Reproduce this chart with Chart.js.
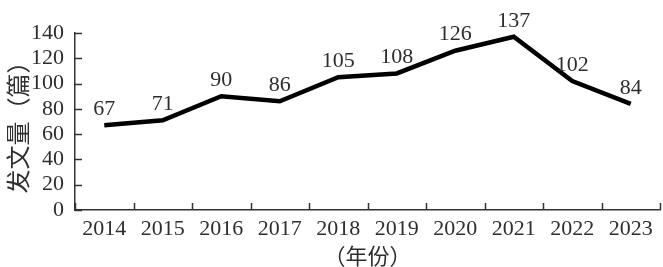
<!DOCTYPE html>
<html>
<head>
<meta charset="utf-8">
<script src="https://cdn.jsdelivr.net/npm/chart.js@4"></script>
<style>
  html, body { margin: 0; padding: 0; background: #fff; }
  #wrap { width: 663px; height: 267px; }
</style>
</head>
<body>
<div id="wrap"><canvas id="chart" width="663" height="267"></canvas></div>
<script>
const years = ['2014', '2015', '2016', '2017', '2018', '2019', '2020', '2021', '2022', '2023'];
const papers = [67, 71, 90, 86, 105, 108, 126, 137, 102, 84];
const yTicks = [0, 20, 40, 60, 80, 100, 120, 140];

const axisColor = '#333';
const textColor = '#2e2e2e';
const fontFamily = '"Liberation Serif", "Noto Sans CJK SC", serif';
const fontSize = 22;

// ticks pointing into the plot, plus value labels above points
const innerTicks = {
  id: 'innerTicks',
  afterDraw(chart) {
    const ctx = chart.ctx;
    const area = chart.chartArea;
    const x = chart.scales.x;
    const y = chart.scales.y;
    ctx.save();
    ctx.strokeStyle = axisColor;
    ctx.lineWidth = 1.5;
    ctx.beginPath();
    yTicks.forEach(v => {
      const py = Math.round(y.getPixelForValue(v)) + 0.5;
      ctx.moveTo(area.left, py);
      ctx.lineTo(area.left + 7, py);
    });
    for (let i = 0; i <= years.length; i++) {
      const px = Math.round(x.getPixelForValue(i - 0.5)) + 0.5;
      ctx.moveTo(px, area.bottom);
      ctx.lineTo(px, area.bottom - 7);
    }
    ctx.stroke();

    const meta = chart.getDatasetMeta(0);
    ctx.fillStyle = textColor;
    ctx.font = fontSize + 'px ' + fontFamily;
    ctx.textAlign = 'center';
    ctx.textBaseline = 'bottom';
    meta.data.forEach((pt, i) => {
      ctx.fillText(String(papers[i]), pt.x, pt.y - 5);
    });
    ctx.restore();
  }
};

new Chart(document.getElementById('chart'), {
  type: 'line',
  data: {
    labels: years,
    datasets: [{
      data: papers,
      borderColor: '#000',
      borderWidth: 4.5,
      pointRadius: 0,
      tension: 0,
      fill: false
    }]
  },
  options: {
    responsive: false,
    animation: false,
    layout: { padding: { top: 33, right: 3, left: 0, bottom: 0 } },
    plugins: {
      legend: { display: false },
      tooltip: { enabled: false }
    },
    scales: {
      x: {
        offset: true,
        grid: { display: false, offset: true },
        border: { color: axisColor, width: 1.5 },
        ticks: { color: textColor, font: { family: fontFamily, size: fontSize }, padding: -2, maxRotation: 0, autoSkip: false },
        title: { display: true, text: '（年份）', color: textColor, font: { family: fontFamily, size: fontSize }, padding: { top: 0, bottom: -4 } },
        afterFit(scale) { scale.height = 57; }
      },
      y: {
        min: 0,
        max: 140,
        grid: { display: false },
        border: { color: axisColor, width: 1.5 },
        ticks: { stepSize: 20, autoSkip: false, color: textColor, font: { family: fontFamily, size: fontSize }, padding: 3 },
        title: { display: true, text: '发文量（篇）', color: textColor, font: { family: fontFamily, size: 24 }, padding: { top: 6, bottom: 0 } },
        afterFit(scale) { scale.width = 75; }
      }
    }
  },
  plugins: [innerTicks]
});
</script>
</body>
</html>
